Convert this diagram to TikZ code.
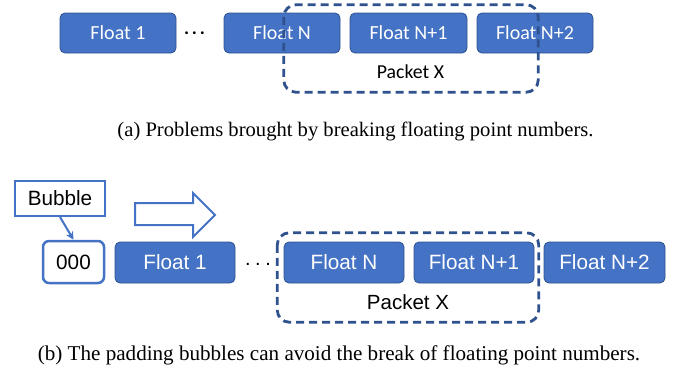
\documentclass[tikz,border=0pt]{standalone}
\usepackage{fontspec}
\usetikzlibrary{arrows.meta}
\setmainfont{Liberation Serif}
\newfontfamily\calfont{Carlito}
\newfontfamily\arialfont{Liberation Sans}
\definecolor{boxblue}{HTML}{4472C4}
\definecolor{edgeblue}{HTML}{2F528F}
\begin{document}
\begin{tikzpicture}[x=1pt,y=-1pt,
  floatA/.style={draw=edgeblue,line width=0.8pt,fill=boxblue,rounded corners=5pt,text=white,font=\calfont\fontsize{20}{22}\selectfont},
  floatB/.style={draw=edgeblue,line width=0.8pt,fill=boxblue,rounded corners=5pt,text=white,font=\arialfont\fontsize{20.7}{22}\selectfont},
  packet/.style={draw=edgeblue,line width=2.8pt,dash pattern=on 8pt off 5pt,rounded corners=12pt},
  outline/.style={draw=boxblue,line width=2pt}]
\useasboundingbox (0,0) rectangle (678,378);
% ---- (a) ----
\node[floatA,minimum width=116pt,minimum height=40pt] (a1) at (118,33) {Float 1};
\node[floatA,minimum width=116pt,minimum height=40pt] (aN) at (282,33) {Float N};
\node[floatA,minimum width=117pt,minimum height=40pt] (aN1) at (408.5,33) {Float N+1};
\node[floatA,minimum width=116pt,minimum height=40pt] (aN2) at (535,33) {Float N+2};
\node[font=\calfont\fontsize{19}{22}\selectfont\bfseries] (adots) at (194.5,33) {.\kern2.8pt.\kern2.8pt.};
\node[draw=none,minimum width=254pt,minimum height=87pt] (apkt) at (411,48.5) {};
\draw[packet] (apkt.north west) rectangle (apkt.south east);
\node[font=\calfont\fontsize{19.8}{22}\selectfont] (apl) at (410.5,72) {Packet X};
\node[font=\fontsize{20.6}{22}\selectfont,inner sep=0pt] (capa) at (355.5,131) {(a) Problems brought by breaking floating point numbers.};
% ---- (b) ----
\node[outline,fill=white,minimum width=90pt,minimum height=35pt,font=\arialfont\fontsize{20.7}{22}\selectfont] (bub) at (60,198.5) {Bubble};
\node[outline,line width=2.5pt,fill=white,rounded corners=6pt,minimum width=61pt,minimum height=42pt,font=\arialfont\fontsize{20.7}{22}\selectfont] (zero) at (73.5,262) {000};
\draw[boxblue,line width=2pt,-{Stealth[length=8pt,width=8pt]}] (bub.south) -- (zero.north);
\node[floatB,minimum width=120pt,minimum height=41pt] (b1) at (175,262.5) {Float 1};
\node[floatB,minimum width=120pt,minimum height=41pt] (bN) at (344,262.5) {Float N};
\node[floatB,minimum width=120pt,minimum height=41pt] (bN1) at (474,262.5) {Float N+1};
\node[floatB,minimum width=121pt,minimum height=41pt] (bN2) at (604.5,262.5) {Float N+2};
\node[font=\arialfont\fontsize{20}{22}\selectfont] (bdots) at (258,264) {.\kern4.6pt.\kern4.6pt.};
\node[draw=none,minimum width=261pt,minimum height=89pt] (bpkt) at (408,277.5) {};
\draw[packet] (bpkt.north west) rectangle (bpkt.south east);
\node[font=\arialfont\fontsize{20.5}{22}\selectfont] (bpl) at (408,302) {Packet X};
\draw[outline,fill=white,line join=miter] (135,203) -- (193,203) -- (193,193) -- (215,215) -- (193,237) -- (193,225) -- (135,225) -- cycle;
\node[font=\fontsize{21.1}{23}\selectfont,inner sep=0pt] (capb) at (339,355) {(b) The padding bubbles can avoid the break of floating point numbers.};
\end{tikzpicture}
\end{document}
